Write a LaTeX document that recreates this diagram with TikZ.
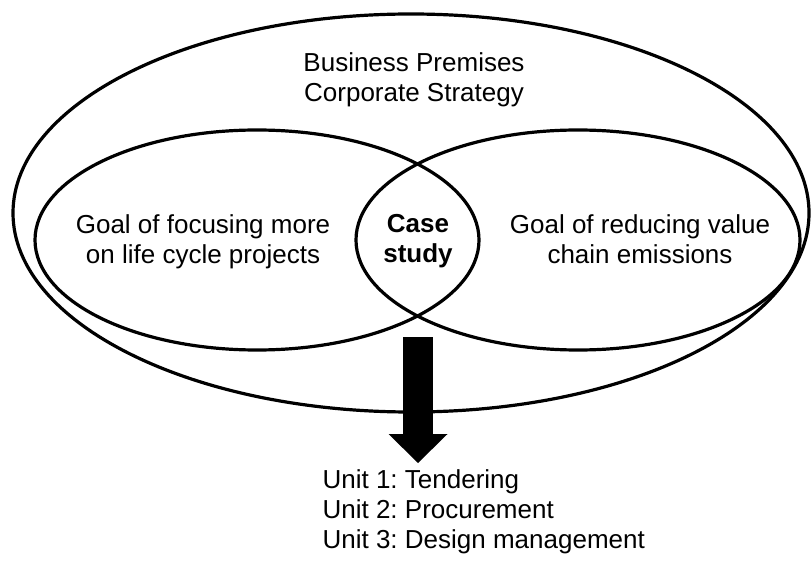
\documentclass[tikz,border=0pt]{standalone}
\usepackage{fontspec}
\setmainfont{Liberation Sans}
\usetikzlibrary{shapes.geometric,arrows.meta}
\frenchspacing
\begin{document}
\begin{tikzpicture}[x=0.75pt,y=-0.75pt,line width=2.4pt,
  ring/.style={ellipse,draw,inner sep=0pt},
  txt/.style={align=center,inner sep=0pt,font=\fontsize{19.5}{22.5}\selectfont}]
  \useasboundingbox (0,0) rectangle (812,566);
  \node[ring,minimum width=597pt,minimum height=298.5pt] (strat) at (411,213) {};
  \node[ring,minimum width=333pt,minimum height=165pt] (goal1) at (257,240) {};
  \node[ring,minimum width=333pt,minimum height=165pt] (goal2) at (578,240) {};
  \node[txt] (premises) at (414,79.5) {Business Premises\\Corporate Strategy};
  \node[txt] (focus) at (203,241.5) {Goal of focusing more\\on life cycle projects};
  \node[txt,font=\fontsize{19.5}{22.5}\selectfont\bfseries] (case) at (418,241.5) {Case\\study};
  \node[txt] (reduce) at (640,238.8) {Goal of reducing value\\chain emissions};
  \node[txt,align=left,anchor=west] (units) at (321,512)
    {Unit 1: Tendering\\Unit 2: Procurement\\Unit 3: Design management};
  % thick arrow out of the overlap
  \coordinate (from) at (418,337);
  \coordinate (to) at (418,463);
  \draw[line width=22.5pt,-{Triangle[width=44.25pt,length=21.75pt,line width=0pt]}] (from) -- (to);
\end{tikzpicture}
\end{document}
